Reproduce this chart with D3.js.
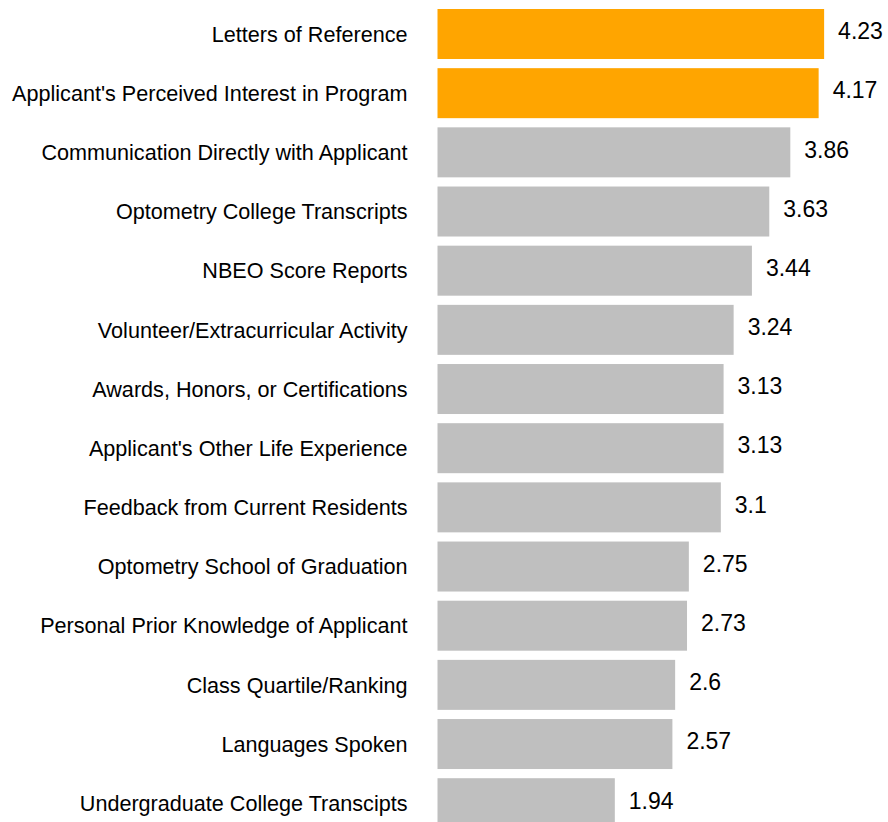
<!DOCTYPE html>
<html><head><meta charset="utf-8">
<script src="https://cdn.jsdelivr.net/npm/d3@7"></script>
<style>html,body{margin:0;padding:0;background:#fff;overflow:hidden}</style>
</head><body>
<svg id="chart" width="888" height="822"></svg>
<script>
const categories = ["Letters of Reference","Applicant's Perceived Interest in Program","Communication Directly with Applicant","Optometry College Transcripts","NBEO Score Reports","Volunteer/Extracurricular Activity","Awards, Honors, or Certifications","Applicant's Other Life Experience","Feedback from Current Residents","Optometry School of Graduation","Personal Prior Knowledge of Applicant","Class Quartile/Ranking","Languages Spoken","Undergraduate College Transcipts"];
const values = [4.23,4.17,3.86,3.63,3.44,3.24,3.13,3.13,3.1,2.75,2.73,2.6,2.57,1.94];
const highlighted = ["Letters of Reference","Applicant's Perceived Interest in Program"];

const svg = d3.select("#chart");
const x0 = 437.5;
const x = d3.scaleLinear().domain([0, 5]).range([x0, x0 + 5*91.4]);
const step = 59.17;
const bw = 50;
const yb = d3.scaleBand().domain(categories).paddingInner(0.155).paddingOuter(0)
  .range([9, 9 + step*(categories.length-1) + bw]);

const data = categories.map((c,i)=>({c, v: values[i]}));
svg.selectAll("rect.bar").data(data).join("rect")
  .attr("class","bar")
  .attr("x", x(0))
  .attr("y", d=>yb(d.c))
  .attr("width", d=>x(d.v)-x(0))
  .attr("height", yb.bandwidth())
  .attr("fill", d=>highlighted.includes(d.c) ? "#FFA500" : "#BFBFBF");

svg.selectAll("text.cat").data(data).join("text")
  .attr("class","cat")
  .attr("x", x(0) - 30)
  .attr("y", d=>yb(d.c) + yb.bandwidth()/2 + 7.7)
  .attr("text-anchor","end")
  .attr("font-family","'Liberation Sans', Arial, sans-serif")
  .attr("font-size","21.6px")
  .attr("fill","#000")
  .text(d=>d.c);

svg.selectAll("text.val").data(data).join("text")
  .attr("class","val")
  .attr("x", d=>x(d.v) + 14)
  .attr("y", d=>yb(d.c) + yb.bandwidth()/2 + 5.3)
  .attr("font-family","'Liberation Sans', Arial, sans-serif")
  .attr("font-size","23px")
  .attr("fill","#000")
  .text(d=>String(d.v));
</script>
</body></html>
